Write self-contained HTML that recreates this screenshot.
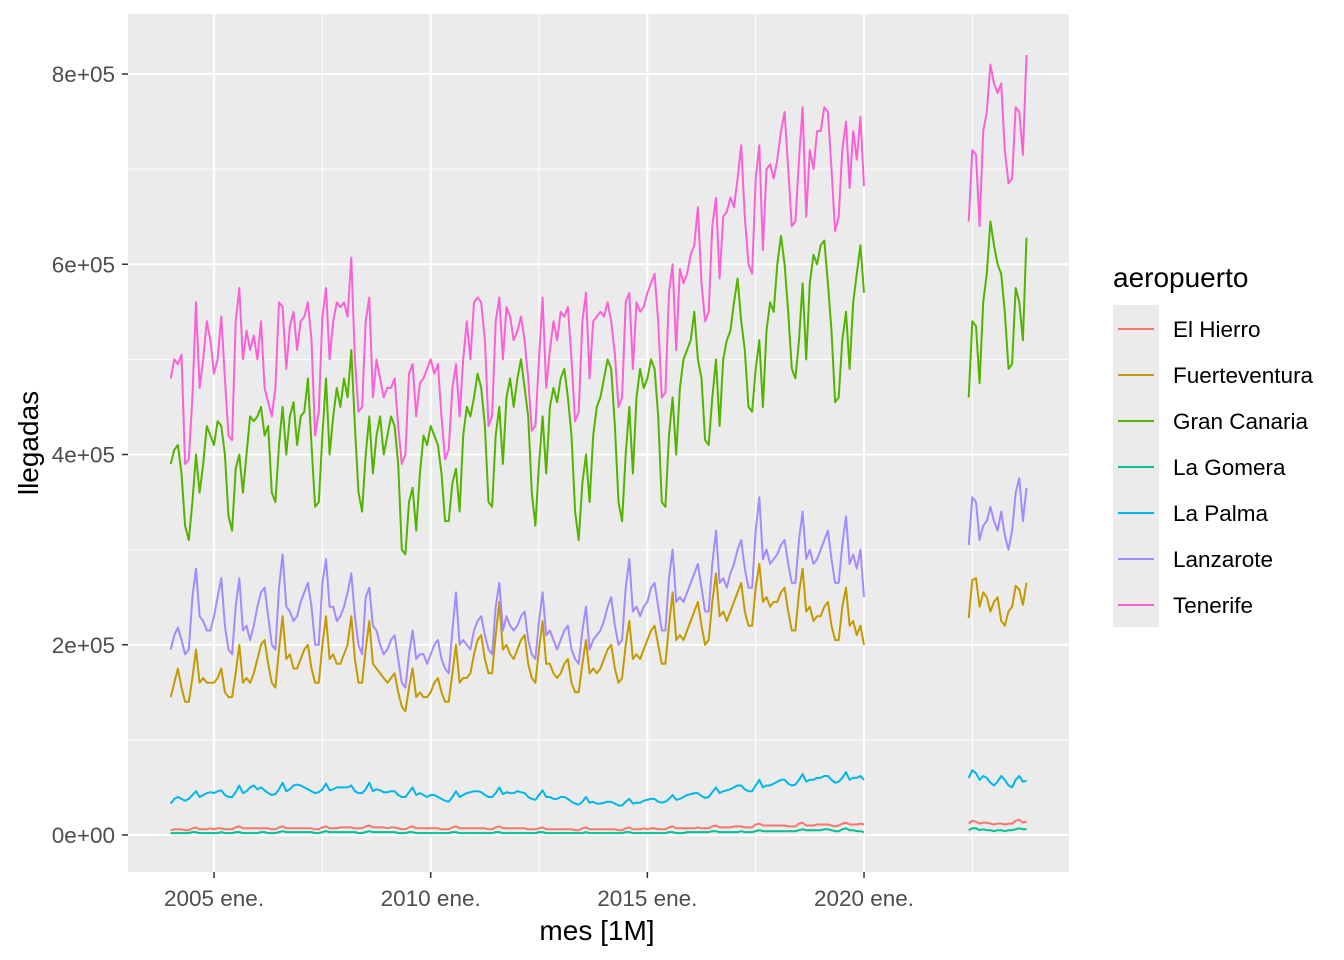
<!DOCTYPE html>
<html><head><meta charset="utf-8"><style>
body{margin:0;background:#fff;}
svg{display:block;font-family:"Liberation Sans",Arial,sans-serif;}
</style></head><body>
<svg id="chart" width="1344" height="960">
<rect x="128" y="14" width="941" height="858" fill="#ebebeb"/>
<g id="grid"></g><g id="series"></g><g id="axes"></g>
<text x="597" y="940" text-anchor="middle" font-size="28" fill="#000">mes [1M]</text>
<text transform="translate(38,443) rotate(-90)" text-anchor="middle" font-size="28" fill="#000">llegadas</text>
<g id="legend"></g>
</svg>
<script>
const seriesNames=["El Hierro","Fuerteventura","Gran Canaria","La Gomera","La Palma","Lanzarote","Tenerife"];
const seriesColors=["#F8766D","#C49A00","#53B400","#00C094","#00B6EB","#A58AFF","#FB61D7"];
const yTicks=[0,200,400,600,800];
const yTickLabels=["0e+00","2e+05","4e+05","6e+05","8e+05"];
const xTickMonths=[12,72,132,192];
const xTickLabels=["2005 ene.","2010 ene.","2015 ene.","2020 ene."];
const seg2Start=221; // 2022 Jun, months after 2004 Jan
// values in thousands, monthly 2004-01..2020-01
const tenerife=[480,500,495,505,390,395,460,560,470,500,540,520,485,500,545,480,420,415,540,575,500,530,510,525,500,540,470,455,440,470,560,555,490,535,550,510,540,545,560,520,420,445,545,575,500,540,560,555,560,545,607,500,445,450,540,565,460,500,480,460,470,470,480,430,390,400,485,495,440,475,480,490,500,485,495,440,395,405,470,495,440,500,540,500,560,565,560,520,430,440,540,565,500,555,545,520,530,545,520,480,425,430,500,565,470,510,540,520,550,545,555,500,435,445,540,570,480,540,545,550,545,560,540,505,450,460,560,570,490,560,550,555,570,580,590,540,460,465,570,600,510,595,580,590,610,620,660,580,540,550,640,670,585,650,655,670,660,690,725,650,600,590,690,725,615,700,705,690,710,740,760,700,640,645,710,765,650,720,700,740,740,765,760,700,635,650,720,750,680,740,710,755,682];
const tenerife2=[645,720,715,640,740,760,810,790,780,790,720,685,690,765,760,715,820];
const granCanaria=[390,405,410,380,325,310,350,400,360,390,430,420,410,435,430,400,335,320,385,400,360,400,440,435,440,450,420,430,360,350,410,450,400,440,455,410,440,445,480,410,345,350,420,480,400,440,470,450,480,460,510,430,360,340,400,440,380,420,440,400,420,440,430,390,300,295,350,365,320,380,420,410,430,420,410,380,330,330,370,385,340,420,450,440,460,485,470,430,350,345,420,450,390,460,480,450,480,500,470,440,360,325,390,440,380,450,470,455,480,490,460,420,340,310,370,400,350,420,450,460,480,500,490,430,350,330,400,450,380,460,490,470,480,500,490,440,350,345,420,460,400,470,500,510,520,550,500,480,415,410,460,500,430,500,520,530,560,585,540,510,450,445,490,520,450,530,560,550,600,630,600,550,490,480,520,580,500,580,610,600,620,625,580,530,455,460,520,550,490,560,590,620,570];
const granCanaria2=[460,540,535,475,560,590,645,620,600,590,550,490,495,575,560,520,628];
const lanzarote=[195,210,218,205,190,195,250,280,230,225,215,215,230,250,270,220,195,190,240,270,215,220,205,220,240,255,260,230,200,195,260,295,240,235,225,230,245,255,265,240,200,200,265,290,240,240,225,230,240,255,275,230,200,190,250,260,220,215,200,190,195,205,210,185,160,155,190,215,185,190,190,180,190,200,205,185,175,170,215,255,200,205,200,195,215,225,230,210,195,190,240,265,215,230,220,215,220,230,235,205,190,185,225,255,210,215,205,195,205,215,220,195,185,180,215,240,195,205,210,215,225,240,250,220,200,205,260,290,235,240,230,240,245,260,265,240,215,215,270,300,245,250,245,255,265,275,285,260,235,235,285,320,265,270,260,275,285,300,310,280,260,260,320,355,290,300,285,290,295,305,310,285,265,265,310,340,290,300,285,290,300,310,320,290,265,265,305,335,285,295,280,300,250];
const lanzarote2=[305,355,350,310,325,330,345,330,320,340,315,300,320,360,375,330,365];
const fuerteventura=[145,160,175,155,140,140,165,195,160,165,160,160,160,165,175,150,145,145,170,200,160,165,160,170,185,200,205,180,160,155,195,230,185,190,175,175,185,195,200,175,160,160,200,230,185,190,180,180,190,200,230,185,160,160,195,225,180,175,170,165,160,165,170,150,135,130,155,175,145,150,145,145,150,160,165,150,140,140,170,200,160,165,165,170,190,205,210,185,170,170,210,245,195,200,190,185,195,205,210,180,165,160,195,225,180,180,170,165,170,180,185,160,150,150,180,205,170,175,170,175,185,195,200,175,160,165,200,225,185,190,185,195,205,215,220,200,180,180,220,255,205,210,205,215,225,235,245,220,200,205,245,275,230,235,225,235,245,255,265,235,220,220,260,285,245,250,240,245,245,255,260,235,215,215,255,280,235,240,225,230,230,240,245,220,205,205,240,260,220,225,210,220,200];
const fuerteventura2=[228,268,270,240,255,250,235,245,250,225,220,235,240,262,258,242,265];
const laPalma=[33,38,40,38,36,38,42,46,40,42,44,45,44,46,47,42,40,40,45,52,44,46,50,52,48,50,47,44,42,43,48,55,46,48,52,53,52,50,48,46,44,45,48,54,47,48,50,50,50,50,52,46,44,44,48,55,46,48,47,45,45,46,46,42,40,40,45,50,42,44,42,40,42,42,40,38,36,35,40,46,40,42,44,45,46,46,45,42,40,40,44,50,43,45,44,44,46,45,44,40,38,37,42,47,40,40,38,38,40,40,38,35,33,32,35,40,34,35,33,33,34,35,35,33,31,31,35,38,33,34,34,36,37,38,38,35,34,35,38,42,37,38,40,42,43,44,44,41,39,40,45,50,44,46,47,48,50,52,52,48,46,46,52,58,50,52,52,54,56,58,58,54,52,53,58,64,56,58,58,60,60,62,62,58,55,56,60,66,58,60,60,62,58];
const laPalma2=[60,68,65,58,62,60,55,52,56,62,58,52,50,58,62,56,57];
const elHierro=[5,6,6,6,5,5,7,8,6,6,6,7,6,7,7,6,6,6,8,9,7,7,7,7,7,7,7,7,6,6,8,9,7,7,7,7,7,7,7,7,6,6,8,9,7,7,7,8,8,8,8,7,7,7,9,10,8,8,8,8,7,8,8,7,6,6,8,9,7,7,7,7,7,7,7,6,6,6,8,9,7,7,7,7,7,7,7,7,6,6,8,9,7,7,7,7,7,7,7,6,6,6,7,8,6,6,6,6,6,6,6,6,5,5,7,8,6,6,6,6,6,6,6,6,5,5,7,8,6,6,6,7,6,7,7,6,6,6,8,9,7,7,7,7,7,7,8,7,7,7,9,10,8,8,8,8,9,9,9,8,8,8,11,12,10,10,10,10,10,10,10,9,9,9,12,13,10,10,10,11,11,11,11,10,9,10,12,13,11,11,11,12,11];
const elHierro2=[12,15,14,12,13,13,12,11,12,12,11,12,12,15,16,13,14];
const laGomera=[2,2,2,2,2,2,3,3,2,2,2,2,2,2,3,2,2,2,3,3,2,2,2,2,2,3,3,2,2,2,3,4,3,3,3,3,3,3,3,3,2,2,3,4,3,3,3,3,3,3,3,3,2,2,3,4,3,3,3,3,3,3,3,2,2,2,3,3,2,2,2,2,2,2,2,2,2,2,3,3,2,2,2,2,2,2,2,2,2,2,3,3,2,2,2,2,2,2,2,2,2,2,3,3,2,2,2,2,2,2,2,2,2,2,2,3,2,2,2,2,2,2,2,2,2,2,3,3,2,2,2,2,2,2,2,2,2,2,3,3,2,2,2,3,3,3,3,3,3,3,4,4,3,3,3,3,3,3,4,3,3,3,4,5,4,4,4,4,4,4,4,4,4,4,5,6,5,5,5,5,5,6,6,5,4,4,6,7,5,5,4,4,3];
const laGomera2=[5,7,7,5,6,5,5,4,5,5,4,5,5,6,7,6,6];

const seg1=[elHierro,fuerteventura,granCanaria,laGomera,laPalma,lanzarote,tenerife];
const seg2=[elHierro2,fuerteventura2,granCanaria2,laGomera2,laPalma2,lanzarote2,tenerife2];
const NS="http://www.w3.org/2000/svg";
const xS=m=>170.7+m*3.611;
const yS=v=>835-v*0.95125;
function mk(tag,attrs,parent){const e=document.createElementNS(NS,tag);for(const k in attrs)e.setAttribute(k,attrs[k]);parent.appendChild(e);return e;}
const grid=document.getElementById('grid'),axes=document.getElementById('axes'),ser=document.getElementById('series'),leg=document.getElementById('legend');
for(let i=0;i<yTicks.length-1;i++){const y=yS((yTicks[i]+yTicks[i+1])/2);
 const l=mk('line',{x1:128,x2:1069,y1:y,y2:y,stroke:'#fff','stroke-width':1},grid);
 
 }
for(let i=0;i<xTickMonths.length;i++){const x=xS(xTickMonths[i]+30);
 const l=mk('line',{x1:x,x2:x,y1:14,y2:872,stroke:'#fff','stroke-width':1},grid);
 
 }
yTicks.forEach((v,i)=>{const y=yS(v);
 const l=mk('line',{x1:128,x2:1069,y1:y,y2:y,stroke:'#fff','stroke-width':2},grid);
 
 
 const t=mk('line',{x1:122,x2:128,y1:y,y2:y,stroke:'#333','stroke-width':1.5},axes);
 
 
 const tx=mk('text',{x:115,y:y+8,'text-anchor':'end','font-size':22.5,fill:'#4d4d4d'},axes);
 tx.textContent=yTickLabels[i];
 
 });
xTickMonths.forEach((m,i)=>{const x=xS(m);
 const l=mk('line',{x1:x,x2:x,y1:14,y2:872,stroke:'#fff','stroke-width':2},grid);
 
 
 const t=mk('line',{x1:x,x2:x,y1:872,y2:878,stroke:'#333','stroke-width':1.5},axes);
 
 
 const tx=mk('text',{x:x,y:906,'text-anchor':'middle','font-size':22.5,fill:'#4d4d4d'},axes);
 tx.textContent=xTickLabels[i];
 
 });
seriesNames.forEach((n,s)=>{
 const p1=seg1[s].map((v,m)=>xS(m).toFixed(1)+','+yS(v).toFixed(1)).join(' ');
 const a=mk('polyline',{points:p1,fill:'none',stroke:seriesColors[s],'stroke-width':2,'stroke-linejoin':'round'},ser);
 
 
 const p2=seg2[s].map((v,m)=>xS(seg2Start+m).toFixed(1)+','+yS(v).toFixed(1)).join(' ');
 const b=mk('polyline',{points:p2,fill:'none',stroke:seriesColors[s],'stroke-width':2,'stroke-linejoin':'round'},ser);
 
 });
const lt=mk('text',{x:1113,y:287,'font-size':28,fill:'#000'},leg);
lt.textContent='aeropuerto';


const bg=mk('rect',{x:1113,y:305,width:46,height:322,fill:'#ebebeb'},leg);


seriesNames.forEach((n,s)=>{const y=329+s*46;
 const l=mk('line',{x1:1118,x2:1154,y1:y,y2:y,stroke:seriesColors[s],'stroke-width':2},leg);
 
 
 const t=mk('text',{x:1173,y:y+8,'font-size':22.5,fill:'#000'},leg);
 t.textContent=n;
 
 });
</script>
</body></html>
